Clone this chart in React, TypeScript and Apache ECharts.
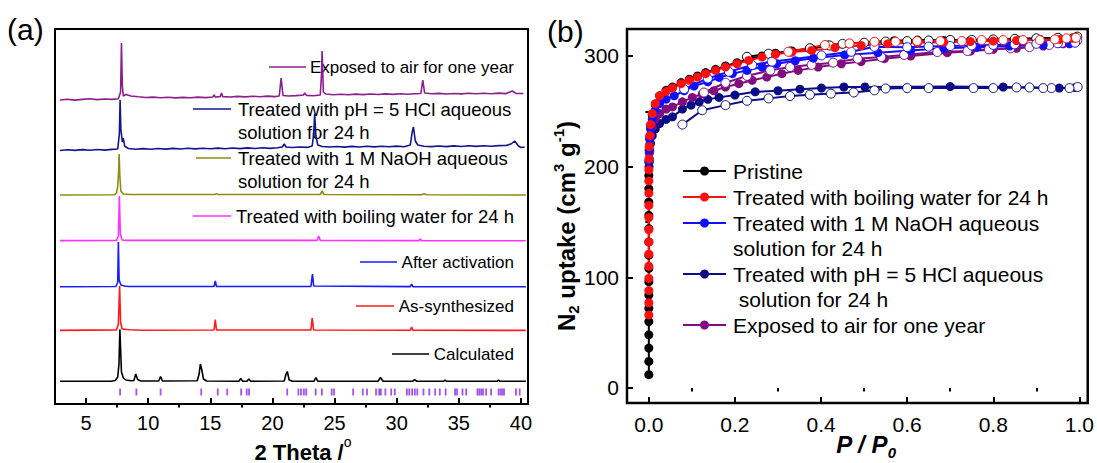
import React, { useEffect, useRef } from 'react';
import * as echarts from 'echarts';

const FONT = '"Liberation Sans", Arial, Helvetica, sans-serif';

// ---------- Panel (a): powder XRD patterns, stacked (2θ in degrees, stacked intensity) ----------
const xrdCalculated: number[][] = [
  [2.9, 22.7], [7.0, 22.8], [7.35, 23.5], [7.55, 27], [7.65, 40], [7.72, 74.6], [7.78, 55], [7.85, 32],
  [8.0, 26], [8.2, 24], [8.6, 23.2], [8.85, 23.5], [9.0, 30], [9.15, 24.5], [9.4, 23], [10.85, 23],
  [11.0, 27.5], [11.15, 23], [13.95, 23.2], [14.1, 30], [14.2, 40], [14.3, 35], [14.45, 25], [14.7, 23],
  [17.3, 22.8], [17.45, 25.5], [17.6, 22.8], [17.95, 22.8], [18.1, 25], [18.25, 22.8], [20.95, 23],
  [21.1, 30], [21.2, 32.5], [21.35, 24], [21.6, 22.8], [23.35, 22.8], [23.5, 26.5], [23.65, 22.8],
  [28.5, 22.8], [28.7, 26.5], [28.9, 22.8], [31.3, 22.8], [31.45, 24.5], [31.6, 22.8], [33.8, 22.8],
  [33.9, 23.8], [34.0, 22.8], [38.1, 22.8], [38.2, 24], [38.3, 22.8], [40.4, 22.7],
];
const xrdAsSynthesized: number[][] = [
  [2.9, 73.6], [5.0, 73.9], [7.45, 74], [7.6, 80], [7.7, 118], [7.78, 82], [7.9, 75], [8.5, 74.2],
  [9.5, 73.8], [15.3, 74], [15.4, 84.3], [15.5, 74], [23.1, 74], [23.2, 86], [23.32, 74], [31.1, 73.8],
  [31.2, 77], [31.3, 73.8], [40.4, 73.6],
];
const xrdActivated: number[][] = [
  [2.9, 117.3], [7.4, 117.5], [7.55, 122], [7.6, 162], [7.66, 124], [7.8, 119], [8.1, 118], [8.4, 117.5],
  [15.3, 117.5], [15.4, 123], [15.5, 117.5], [23.1, 117.6], [23.22, 130], [23.32, 118], [31.1, 117.4],
  [31.2, 120], [31.3, 117.4], [40.4, 117.3],
];
const xrdBoilingWater: number[][] = [
  [2.9, 163.4], [7.45, 163.6], [7.6, 168], [7.68, 208], [7.76, 170], [7.9, 164], [8.2, 163.6],
  [23.6, 163.6], [23.72, 168], [23.85, 163.6], [31.8, 163.4], [31.9, 165], [32.0, 163.4], [40.4, 163.2],
];
const xrdNaOH: number[][] = [
  [2.9, 209], [7.3, 209.3], [7.45, 211], [7.55, 218], [7.62, 232], [7.66, 250], [7.72, 228], [7.8, 213],
  [8.0, 210], [8.5, 209.5], [15.4, 209.5], [15.5, 210.5], [15.6, 209.5], [23.85, 209.5], [24.0, 213],
  [24.15, 209.5], [32.0, 209.3], [32.2, 210.3], [32.4, 209.3], [40.4, 209],
];
const xrdHCl: number[][] = [
  [2.9, 253.5], [3.5, 254.3], [4.1, 253.6], [4.7, 254.4], [5.3, 253.8], [5.9, 254.5], [6.5, 253.9],
  [7.1, 254.6], [7.55, 255], [7.68, 270], [7.74, 304], [7.8, 275], [7.92, 262], [8.0, 266], [8.1, 258],
  [8.4, 255.5], [9.0, 254.8], [9.6, 255.4], [10.2, 254.7], [10.8, 255.5], [11.4, 254.9], [12.0, 255.6],
  [12.6, 255], [13.2, 255.7], [13.8, 255.1], [14.4, 255.8], [15.0, 255.2], [15.6, 255.9], [16.2, 255.3],
  [16.8, 256], [17.4, 255.4], [18.0, 256.1], [18.6, 255.5], [19.2, 256.2], [19.8, 255.6], [20.4, 256.3],
  [20.8, 257], [20.95, 260], [21.1, 257], [21.6, 256.5], [22.2, 257], [22.8, 256.6], [23.2, 258],
  [23.32, 270], [23.4, 290], [23.5, 268], [23.65, 259], [24.0, 257.5], [24.6, 257], [25.2, 257.5],
  [25.8, 256.9], [26.4, 257.6], [27.0, 257], [27.6, 257.7], [28.2, 257.1], [28.8, 257.8], [29.4, 257.2],
  [30.0, 257.9], [30.6, 257.3], [31.1, 259], [31.25, 272], [31.35, 277], [31.5, 263], [31.7, 259],
  [32.2, 257.8], [32.8, 257.4], [33.4, 258], [34.0, 257.4], [34.6, 258.1], [35.2, 257.5], [35.8, 258.2],
  [36.4, 257.6], [37.0, 258.3], [37.6, 257.7], [38.2, 258.4], [38.8, 258.5], [39.2, 260], [39.5, 263],
  [39.8, 258], [40.0, 256.5], [40.3, 257],
];
const xrdAir: number[][] = [
  [2.9, 304], [3.5, 304.8], [4.1, 303.9], [4.7, 304.6], [5.3, 305.2], [5.9, 304.4], [6.5, 305],
  [7.1, 304.6], [7.6, 305.3], [7.78, 312], [7.85, 361], [7.92, 318], [8.0, 308], [8.2, 309.5],
  [8.6, 308], [9.2, 307.2], [9.8, 306.5], [10.4, 306.9], [11.0, 306.2], [11.6, 306.8], [12.2, 306.1],
  [12.8, 306.6], [13.4, 306.3], [14.0, 306.9], [14.6, 306.4], [15.2, 307], [15.3, 309], [15.4, 307],
  [15.8, 307.4], [15.9, 311], [16.0, 307.4], [16.6, 307], [17.2, 307.6], [17.8, 307.1], [18.4, 307.8],
  [19.0, 307.3], [19.6, 307.9], [20.2, 307.4], [20.55, 308], [20.7, 326], [20.85, 308.5], [21.3, 308],
  [21.9, 308.4], [22.5, 309], [22.6, 311], [22.75, 308.6], [23.3, 308.3], [23.85, 309], [23.95, 330],
  [24.0, 353], [24.1, 312], [24.3, 310], [24.9, 309.2], [25.5, 309.8], [26.1, 309.3], [26.7, 309.9],
  [27.3, 309.4], [27.9, 310], [28.5, 309.5], [29.1, 310.1], [29.7, 309.6], [30.3, 310.2], [30.9, 309.7],
  [31.5, 310.3], [31.95, 310.5], [32.1, 324], [32.25, 311], [32.8, 310.2], [33.4, 310.6], [34.0, 310],
  [34.6, 310.5], [35.2, 310.1], [35.8, 310.7], [36.4, 310.2], [37.0, 310.8], [37.6, 310.3], [38.2, 310.9],
  [38.8, 310.4], [39.3, 313], [39.6, 310.6], [40.2, 310.5],
];
// Simulated reflection positions (2θ)
const braggPositions: number[] = [
  7.74, 9.05, 11.0, 14.27, 15.6, 16.36, 17.48, 17.93, 18.12, 21.19, 22.09, 22.3, 22.53, 22.72, 23.48,
  23.98, 24.77, 24.96, 26.5, 27.27, 27.61, 28.34, 28.59, 28.73, 29.09, 29.56, 29.85, 30.82, 31.01, 31.24,
  31.46, 31.66, 32.16, 32.63, 33.1, 33.47, 33.94, 34.7, 34.86, 35.3, 35.6, 36.5, 36.65, 36.8, 36.95,
  37.2, 37.6, 38.2, 38.36, 38.5, 38.64, 39.6, 39.9,
];
const braggRow = 12;
const xrdNames: string[] = [
  'Calculated', 'As-synthesized', 'After activation', 'Treated with boiling water for 24 h',
  'Treated with 1 M NaOH aqueous\nsolution for 24 h', 'Treated with pH = 5 HCl aqueous\nsolution for 24 h',
  'Exposed to air for one year',
];
const xrdColors = ['#000000', '#ff1a1a', '#1a1aff', '#ff33ff', '#8c8c14', '#14148c', '#8c1f8c'];
const xrdSeries = [xrdCalculated, xrdAsSynthesized, xrdActivated, xrdBoilingWater, xrdNaOH, xrdHCl, xrdAir];
const thetaMajorTicks = [5, 10, 15, 20, 25, 30, 35, 40];
const thetaMinorTicks = [7.5, 12.5, 17.5, 22.5, 27.5, 32.5, 37.5];

// ---------- Panel (b): N2 sorption isotherms (P/P0, cm3 g-1) ----------
const pristineAds: number[][] = [
  [0, 12], [0, 24], [0, 36], [0, 48], [0, 60], [0, 72], [0, 84], [0, 96], [0, 108], [0, 120], [0, 132],
  [0, 144], [0, 156], [0, 168], [0, 180], [0, 192], [0.0005, 204], [0.001, 215], [0.002, 226],
  [0.004, 237], [0.008, 247], [0.015, 256], [0.025, 264], [0.04, 269], [0.055, 272], [0.075, 276],
  [0.094, 279], [0.113, 282], [0.132, 285], [0.155, 288], [0.178, 291], [0.205, 294], [0.232, 297],
  [0.263, 300], [0.294, 302.5], [0.332, 304.5], [0.378, 306.5], [0.416, 309.9], [0.466, 311.4],
  [0.524, 312.9], [0.57, 313.8], [0.624, 314.4], [0.685, 314], [0.747, 314.2], [0.8, 314.5],
  [0.854, 314.8], [0.908, 315.2], [0.954, 315.6], [0.985, 316.5],
];
const pristineDes: number[][] = [
  [0.995, 317.5], [0.95, 316.5], [0.9, 316], [0.85, 315.5], [0.8, 315], [0.75, 314.5], [0.7, 314.5],
  [0.65, 314], [0.6, 313.5], [0.55, 313], [0.5, 312], [0.45, 311], [0.42, 309.5], [0.374, 307],
  [0.328, 304], [0.278, 302], [0.228, 299.3],
];
const boilingAds: number[][] = [
  [0, 66], [0, 77], [0, 88], [0, 99], [0, 110], [0, 121], [0, 132], [0, 143], [0, 154], [0, 165],
  [0, 176], [0, 187], [0, 197], [0.0005, 207], [0.001, 218], [0.002, 228], [0.004, 238], [0.008, 248],
  [0.015, 257], [0.025, 264], [0.04, 268], [0.055, 271], [0.075, 275], [0.094, 278], [0.113, 281],
  [0.132, 284], [0.155, 287], [0.178, 290], [0.205, 293], [0.232, 296], [0.263, 299], [0.294, 301.5],
  [0.332, 303.5], [0.378, 305], [0.432, 307.5], [0.493, 309.5], [0.555, 311], [0.624, 312],
  [0.685, 312.5], [0.747, 313], [0.8, 313.5], [0.854, 314], [0.908, 314.5], [0.954, 315], [0.985, 316],
];
const boilingDes: number[][] = [
  [0.992, 316.5], [0.97, 316], [0.943, 315], [0.908, 314.4], [0.869, 314.4], [0.823, 314.4],
  [0.773, 314.4], [0.727, 313.5], [0.677, 313.5], [0.623, 313.5], [0.573, 312.9], [0.524, 312.9],
  [0.466, 311.4], [0.409, 309.9], [0.324, 303.8],
];
const naohAds: number[][] = [
  [0.0005, 205], [0.001, 215], [0.002, 225], [0.004, 234], [0.008, 243], [0.015, 251], [0.025, 257],
  [0.04, 261], [0.059, 264], [0.082, 268.6], [0.105, 272.8], [0.137, 276.7], [0.163, 280.6],
  [0.194, 284], [0.228, 287], [0.263, 290], [0.297, 293], [0.34, 295.7], [0.382, 298], [0.455, 301],
  [0.532, 303], [0.608, 305], [0.685, 307], [0.762, 308], [0.838, 309], [0.916, 310], [0.977, 311],
];
const naohDes: number[][] = [
  [0.99, 312], [0.95, 311.5], [0.9, 311], [0.85, 310.5], [0.8, 310], [0.75, 309.5], [0.7, 309],
  [0.65, 308.5], [0.6, 308], [0.524, 308.3], [0.47, 303.8], [0.401, 300.5], [0.286, 294.9],
  [0.24, 291.8], [0.186, 285.7], [0.137, 279.7], [0.082, 270],
];
const hclAds: number[][] = [
  [0.0005, 200], [0.001, 207], [0.002, 214], [0.004, 221], [0.008, 228], [0.015, 234], [0.025, 239],
  [0.04, 242.7], [0.055, 245], [0.078, 252], [0.098, 255.6], [0.117, 258.6], [0.137, 260.8],
  [0.163, 262.6], [0.2, 264.7], [0.247, 267.6], [0.3, 268.6], [0.351, 270], [0.401, 271], [0.453, 272],
  [0.502, 272], [0.7, 272.4], [0.823, 272], [0.953, 271], [0.99, 271.5],
];
const hclDes: number[][] = [
  [0.996, 272], [0.977, 271], [0.935, 271], [0.916, 271], [0.884, 271.6], [0.854, 271.6], [0.8, 271],
  [0.754, 271], [0.65, 271], [0.6, 271], [0.55, 270.6], [0.524, 269], [0.476, 267], [0.423, 266],
  [0.374, 265], [0.328, 263.8], [0.278, 261.7], [0.228, 259.5], [0.178, 255.6], [0.124, 251],
  [0.078, 238],
];
const airAds: number[][] = [
  [0.0005, 205], [0.001, 212], [0.002, 220], [0.004, 228], [0.008, 236], [0.015, 243], [0.025, 248],
  [0.04, 252], [0.055, 254], [0.078, 258.6], [0.101, 262.6], [0.124, 265.6], [0.151, 268.6],
  [0.178, 272], [0.209, 275], [0.24, 278], [0.274, 281], [0.309, 284], [0.347, 287], [0.393, 290],
  [0.447, 293], [0.493, 295], [0.547, 297.6], [0.608, 300], [0.693, 303], [0.747, 304.4], [0.8, 306],
  [0.854, 307], [0.916, 309], [0.962, 311], [0.99, 312],
];
const airDes: number[][] = [
  [0.995, 314], [0.96, 312], [0.93, 310], [0.884, 308], [0.84, 307], [0.79, 306], [0.74, 304.5],
  [0.67, 303.6], [0.593, 301], [0.54, 299], [0.485, 297.6], [0.428, 294], [0.378, 292], [0.328, 290],
  [0.282, 287], [0.228, 282], [0.178, 275.8], [0.128, 267],
];
const isoNames: string[] = [
  'Pristine', 'Treated with boiling water for 24 h', 'Treated with 1 M NaOH aqueous\nsolution for 24 h',
  'Treated with pH = 5 HCl aqueous\n solution for 24 h', 'Exposed to air for one year',
];
const isoColors = ['#000000', '#ff1010', '#1010ff', '#0c0c86', '#800c80'];
const isoAds = [pristineAds, boilingAds, naohAds, hclAds, airAds];
const isoDes = [pristineDes, boilingDes, naohDes, hclDes, airDes];
// drawing order: first drawn is underneath
const isoOrder = [0, 3, 4, 2, 1];
const pMajorTicks = [0, 0.2, 0.4, 0.6, 0.8, 1.0];
const pMinorTicks = [0.1, 0.3, 0.5, 0.7, 0.9];
const uptakeMajorTicks = [0, 100, 200, 300];
const uptakeMinorTicks = [50, 150, 250];

// ---------- layout ----------
const gridA = { left: 55, top: 29, width: 473, height: 375 };
const gridB = { left: 627, top: 29, width: 465, height: 374 };

function majorAxis(gridIndex: number, min: number, max: number, ticks: number[], labelSize: number,
  margin: number, fmt?: (v: number) => string) {
  return {
    gridIndex, type: 'value', min, max,
    axisLine: { show: true, onZero: false, lineStyle: { color: '#000', width: 2 } },
    axisTick: { show: true, inside: true, length: 6, customValues: ticks, lineStyle: { color: '#000', width: 2 } },
    axisLabel: {
      show: true, customValues: ticks, fontSize: labelSize, color: '#000', fontFamily: FONT, margin,
      formatter: fmt ? (v: number) => fmt(v) : undefined,
    },
    splitLine: { show: false },
  };
}
function minorAxis(gridIndex: number, min: number, max: number, ticks: number[]) {
  return {
    gridIndex, type: 'value', min, max,
    axisLine: { show: false },
    axisTick: { show: true, inside: true, length: 3.5, customValues: ticks, lineStyle: { color: '#000', width: 2 } },
    axisLabel: { show: false },
    splitLine: { show: false },
  };
}

function buildOption() {
  const series: any[] = [];
  xrdSeries.forEach((data, i) => {
    series.push({
      type: 'line', name: xrdNames[i], xAxisIndex: 0, yAxisIndex: 0, data,
      symbol: 'none', showSymbol: false, silent: true,
      lineStyle: { color: xrdColors[i], width: 1.6 },
    });
  });
  series.push({
    type: 'scatter', xAxisIndex: 0, yAxisIndex: 0, silent: true,
    data: braggPositions.map((p) => [p, braggRow]),
    symbol: 'rect', symbolSize: [1.8, 7], itemStyle: { color: '#8a2be2' },
  });
  isoOrder.forEach((i) => {
    series.push({
      type: 'line', name: isoNames[i], xAxisIndex: 2, yAxisIndex: 1, data: isoAds[i],
      symbol: 'circle', symbolSize: 9, silent: true,
      lineStyle: { color: isoColors[i], width: 2 },
      itemStyle: { color: isoColors[i] },
    });
    series.push({
      type: 'line', xAxisIndex: 2, yAxisIndex: 1, data: isoDes[i],
      symbol: 'circle', symbolSize: 9, silent: true,
      lineStyle: { color: isoColors[i], width: 2 },
      itemStyle: { color: '#ffffff', borderColor: isoColors[i], borderWidth: 1 },
    });
  });

  const graphic: any[] = [];
  const text = (x: number, y: number, t: string, size: number, extra: any = {}) => ({
    type: 'text', x, y, silent: true,
    style: { text: t, fontSize: size, fontFamily: FONT, fill: '#000', verticalAlign: 'middle', ...extra },
  });
  graphic.push(text(7, 29, '(a)', 30));
  graphic.push(text(547, 31, '(b)', 30));

  // legend entries of panel (a): key line from x1 to x2 at height y, label anchored at tx
  const legendA = [
    { i: 6, x1: 269, x2: 306, y: 67, tx: 514, align: 'right', size: 17 },
    { i: 5, x1: 193, x2: 231, y: 109, tx: 238, align: 'left', size: 18.5 },
    { i: 4, x1: 196, x2: 231, y: 158, tx: 238, align: 'left', size: 18.5 },
    { i: 3, x1: 193, x2: 231, y: 216, tx: 514, align: 'right', size: 18.5 },
    { i: 2, x1: 360, x2: 397, y: 262, tx: 514, align: 'right', size: 17 },
    { i: 1, x1: 356, x2: 394, y: 306, tx: 514, align: 'right', size: 17 },
    { i: 0, x1: 392, x2: 429, y: 354, tx: 514, align: 'right', size: 17 },
  ];
  const legALine = 23;
  legendA.forEach((e) => {
    graphic.push({
      type: 'line', silent: true, shape: { x1: e.x1, y1: e.y, x2: e.x2, y2: e.y },
      style: { stroke: xrdColors[e.i], lineWidth: 1.6 },
    });
    const multi = xrdNames[e.i].includes('\n');
    graphic.push(text(e.tx, multi ? e.y - legALine / 2 : e.y, xrdNames[e.i], e.size, {
      align: e.align, verticalAlign: multi ? 'top' : 'middle', lineHeight: legALine,
    }));
  });

  // legend of panel (b)
  const legendB = [
    { i: 0, y: 171 }, { i: 1, y: 197 }, { i: 2, y: 223 }, { i: 3, y: 274 }, { i: 4, y: 325 },
  ];
  const legBSize = 21;
  const legBLine = 25.5;
  legendB.forEach((e) => {
    graphic.push({
      type: 'line', silent: true, shape: { x1: 683, y1: e.y, x2: 726, y2: e.y },
      style: { stroke: isoColors[e.i], lineWidth: 2 },
    });
    graphic.push({
      type: 'circle', silent: true, shape: { cx: 704.5, cy: e.y, r: 4.5 },
      style: { fill: isoColors[e.i] },
    });
    const multi = isoNames[e.i].includes('\n');
    graphic.push(text(733, multi ? e.y - legBLine / 2 : e.y, isoNames[e.i], legBSize, {
      align: 'left', verticalAlign: multi ? 'top' : 'middle', lineHeight: legBLine,
    }));
  });

  // axis titles
  graphic.push({
    type: 'text', x: 303, y: 449, silent: true,
    style: {
      text: '{m|2 Theta /}{s|o}', align: 'center', verticalAlign: 'middle',
      rich: {
        m: { fontSize: 22, fontWeight: 'bold', fontFamily: FONT, fill: '#000', lineHeight: 28, verticalAlign: 'bottom' },
        s: { fontSize: 14, fontFamily: FONT, fill: '#000', lineHeight: 28, verticalAlign: 'top' },
      },
    },
  });
  graphic.push({
    type: 'text', x: 866, y: 446, silent: true,
    style: {
      text: '{m|P / P}{s|0}', align: 'center', verticalAlign: 'middle',
      rich: {
        m: { fontSize: 24, fontWeight: 'bold', fontStyle: 'italic', fontFamily: FONT, fill: '#000', lineHeight: 28, verticalAlign: 'top' },
        s: { fontSize: 15, fontWeight: 'bold', fontStyle: 'italic', fontFamily: FONT, fill: '#000', lineHeight: 28, verticalAlign: 'bottom' },
      },
    },
  });
  graphic.push({
    type: 'text', x: 566, y: 226, rotation: Math.PI / 2, silent: true,
    style: {
      text: '{m|N}{d|2}{m| uptake (cm}{u|3}{m| g}{u|-1}{m|)}', align: 'center', verticalAlign: 'middle',
      rich: {
        m: { fontSize: 24, fontWeight: 'bold', fontFamily: FONT, fill: '#000', lineHeight: 30, verticalAlign: 'middle' },
        d: { fontSize: 15, fontWeight: 'bold', fontFamily: FONT, fill: '#000', lineHeight: 30, verticalAlign: 'bottom' },
        u: { fontSize: 15, fontWeight: 'bold', fontFamily: FONT, fill: '#000', lineHeight: 30, verticalAlign: 'top' },
      },
    },
  });

  return {
    animation: false,
    backgroundColor: '#ffffff',
    textStyle: { fontFamily: FONT },
    grid: [
      { ...gridA, show: true, borderColor: '#000', borderWidth: 2, backgroundColor: 'transparent' },
      { ...gridB, show: true, borderColor: '#000', borderWidth: 2.5, backgroundColor: 'transparent' },
    ],
    xAxis: [
      majorAxis(0, 2.5, 40.57, thetaMajorTicks, 20, 9),
      minorAxis(0, 2.5, 40.57, thetaMinorTicks),
      majorAxis(1, -0.0507, 1.0193, pMajorTicks, 21, 11, (v) => v.toFixed(1)),
      minorAxis(1, -0.0507, 1.0193, pMinorTicks),
    ],
    yAxis: [
      {
        gridIndex: 0, type: 'value', min: 0, max: 375,
        axisLine: { show: true, lineStyle: { color: '#000', width: 2 } },
        axisTick: { show: false }, axisLabel: { show: false }, splitLine: { show: false },
      },
      majorAxis(1, -13.6, 324.4, uptakeMajorTicks, 21, 8),
      minorAxis(1, -13.6, 324.4, uptakeMinorTicks),
    ],
    series,
    graphic,
  };
}

export default function App() {
  const ref = useRef<HTMLDivElement>(null);
  useEffect(() => {
    if (!ref.current) return;
    const chart = echarts.init(ref.current, null, { renderer: 'svg' });
    chart.setOption(buildOption() as any);
    return () => chart.dispose();
  }, []);
  return (
    <div
      ref={ref}
      style={{ position: 'absolute', left: 0, top: 0, width: 1097, height: 463, background: '#fff' }}
    />
  );
}
